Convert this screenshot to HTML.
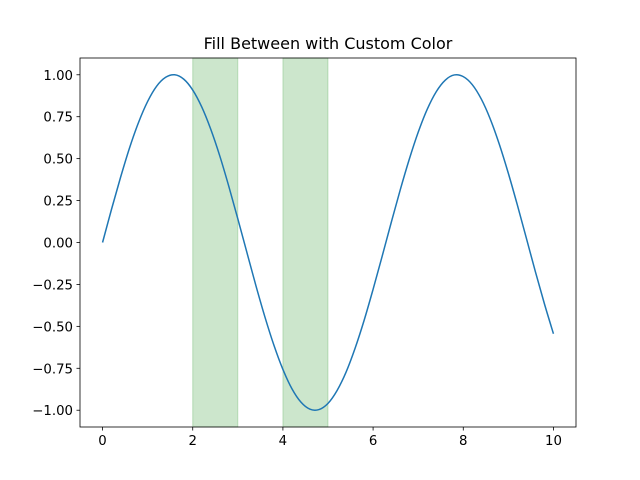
<!DOCTYPE html>
<html><head><meta charset="utf-8"><style>
body{margin:0;background:#fff;}
svg{display:block;font-family:"DejaVu Sans","Liberation Sans",sans-serif;}
</style></head><body>
<svg id="chart" width="640" height="480" xmlns="http://www.w3.org/2000/svg">
<rect width="640" height="480" fill="#fff"/>
<text x="328" y="49" text-anchor="middle" font-size="16" fill="#000">Fill Between with Custom Color</text>
<g id="plot"></g>
</svg>
<script>
const xValues = [0,0.2,0.4,0.6,0.8,1.0,1.2,1.4,1.6,1.8,2.0,2.2,2.4,2.6,2.8,3.0,3.2,3.4,3.6,3.8,4.0,4.2,4.4,4.6,4.8,5.0,5.2,5.4,5.6,5.8,6.0,6.2,6.4,6.6,6.8,7.0,7.2,7.4,7.6,7.8,8.0,8.2,8.4,8.6,8.8,9.0,9.2,9.4,9.6,9.8,10.0];
const yValues = [0,0.199,0.389,0.565,0.717,0.841,0.932,0.985,1.000,0.974,0.909,0.808,0.675,0.516,0.335,0.141,-0.058,-0.256,-0.443,-0.612,-0.757,-0.872,-0.952,-0.994,-0.996,-0.959,-0.883,-0.773,-0.631,-0.465,-0.279,-0.083,0.117,0.312,0.494,0.657,0.794,0.899,0.968,0.999,0.989,0.941,0.855,0.735,0.585,0.412,0.223,0.025,-0.175,-0.366,-0.544];
const bandStarts = [2,4];
const bandEnds = [3,5];
const xTicks = [0,2,4,6,8,10];
const yTicks = [-1.00,-0.75,-0.50,-0.25,0.00,0.25,0.50,0.75,1.00];

const L=80,R=576,T=58,B=427;
const xmin=-0.5,xmax=10.5,ymin=-1.1,ymax=1.1;
const sx=v=>L+(v-xmin)/(xmax-xmin)*(R-L);
const sy=v=>B-(v-ymin)/(ymax-ymin)*(B-T);
const NS="http://www.w3.org/2000/svg";
const g=document.getElementById('plot');
function mk(tag,attrs){const e=document.createElementNS(NS,tag);for(const k in attrs)e.setAttribute(k,attrs[k]);g.appendChild(e);return e;}

bandStarts.forEach((s,i)=>{
  const r=mk('rect',{x:sx(s),y:T,width:sx(bandEnds[i])-sx(s),height:B-T,fill:'rgba(0,128,0,0.2)',stroke:'rgba(0,128,0,0.2)','stroke-width':1});
  
  
});

const P=xValues.map((x,i)=>[sx(x),sy(yValues[i])]);
let d='M'+P[0][0].toFixed(2)+','+P[0][1].toFixed(2);
for(let i=0;i<P.length-1;i++){
  const p0=P[Math.max(0,i-1)],p1=P[i],p2=P[i+1],p3=P[Math.min(P.length-1,i+2)];
  const c1=[p1[0]+(p2[0]-p0[0])/6,p1[1]+(p2[1]-p0[1])/6];
  const c2=[p2[0]-(p3[0]-p1[0])/6,p2[1]-(p3[1]-p1[1])/6];
  d+=' C'+c1[0].toFixed(2)+','+c1[1].toFixed(2)+' '+c2[0].toFixed(2)+','+c2[1].toFixed(2)+' '+p2[0].toFixed(2)+','+p2[1].toFixed(2);
}
const line=mk('path',{d:d,fill:'none',stroke:'#1f77b4','stroke-width':1.5,'stroke-linejoin':'round'});



const frame=mk('rect',{x:L,y:T,width:R-L,height:B-T,fill:'none',stroke:'#000','stroke-width':0.8});



xTicks.forEach(v=>{
  const x=sx(v);
  const t=mk('line',{x1:x,x2:x,y1:B,y2:B+3.5,stroke:'#000','stroke-width':0.8});
  
  
  const l=mk('text',{x:x,y:B+18,'text-anchor':'middle','font-size':'13.3',fill:'#000'});
  l.textContent=String(v);
  
  
});
yTicks.forEach(v=>{
  const y=sy(v);
  const t=mk('line',{x1:L-3.5,x2:L,y1:y,y2:y,stroke:'#000','stroke-width':0.8});
  
  
  const l=mk('text',{x:L-7,y:y+5,'text-anchor':'end','font-size':'13.3',fill:'#000'});
  l.textContent=(v<0?'\u2212':'')+Math.abs(v).toFixed(2);
  
  
});
</script>
</body></html>
